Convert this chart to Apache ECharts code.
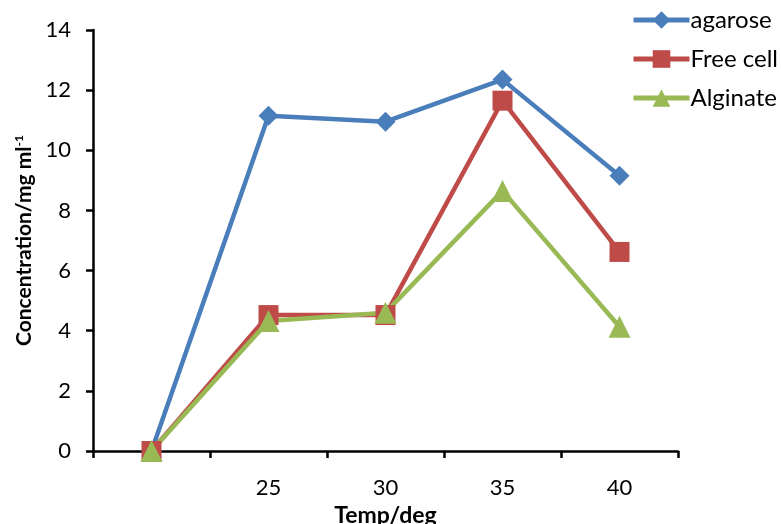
<!doctype html>
<html>
<head>
<meta charset="utf-8">
<script src="https://cdn.jsdelivr.net/npm/echarts@6/dist/echarts.min.js"></script>
<style>
  html, body { margin:0; padding:0; background:#fff; }
  #chart { width:781px; height:524px; }
</style>
</head>
<body>
<div id="chart"></div>
<script>
const temps = ['', '25', '30', '35', '40'];
const agarose = [0, 11.15, 10.95, 12.35, 9.15];
const freeCell = [0, 4.52, 4.52, 11.65, 6.62];
const alginate = [0, 4.32, 4.6, 8.65, 4.13];

const font = 'Lato, "Open Sans", sans-serif';

function line(name, data, color, symbol, size) {
  return {
    name, type: 'line', data,
    symbol, symbolSize: size,
    lineStyle: { color, width: 4.5 },
    itemStyle: { color },
    emphasis: { disabled: true },
    animation: false
  };
}

echarts.init(document.getElementById('chart')).setOption({
  backgroundColor: '#fff',
  textStyle: { fontFamily: font },
  grid: { left: 93, right: 103, top: 30, bottom: 73, outerBoundsMode: 'none', containLabel: false },
  legend: {
    orient: 'vertical', left: 631, top: 8,
    itemWidth: 56, itemHeight: 22, itemGap: 15, padding: 0,
    lineStyle: { width: 5 },
    textStyle: { fontSize: 24, color: '#000', fontFamily: font, padding: [0, 0, 0, -4] },
    data: ['agarose', 'Free cell', 'Alginate']
  },
  xAxis: {
    type: 'category', data: temps, boundaryGap: true,
    name: 'Temp/deg', nameLocation: 'middle', nameGap: 47,
    nameTextStyle: { fontSize: 23, fontWeight: 'bold', color: '#000' },
    axisLine: { lineStyle: { color: '#000', width: 2.5 } },
    axisTick: { show: true, interval: 0, length: 7, inside: false, lineStyle: { color: '#000', width: 2.5 } },
    axisLabel: { interval: 0, margin: 26, fontSize: 22, color: '#000' },
    splitLine: { show: false }
  },
  yAxis: {
    type: 'value', min: 0, max: 14, interval: 2,
    name: '{a|Concentration/mg ml}{s|-1}', nameLocation: 'middle', nameGap: 58,
    nameTextStyle: {
      color: '#000',
      rich: {
        a: { fontSize: 21, fontWeight: 'bold', color: '#000', fontFamily: font },
        s: { fontSize: 12, fontWeight: 'bold', color: '#000', verticalAlign: 'top', fontFamily: font, padding: [0, 0, 8, 0] }
      }
    },
    axisLine: { show: true, lineStyle: { color: '#000', width: 2.5 } },
    axisTick: { show: true, length: 7, lineStyle: { color: '#000', width: 2.5 } },
    axisLabel: { fontSize: 22, color: '#000', margin: 22 },
    splitLine: { show: false }
  },
  series: [
    line('agarose', agarose, '#4a7ebb', 'diamond', 20),
    line('Free cell', freeCell, '#be4b48', 'rect', 20),
    line('Alginate', alginate, '#98b954', 'triangle', 22)
  ]
});
</script>
</body>
</html>
